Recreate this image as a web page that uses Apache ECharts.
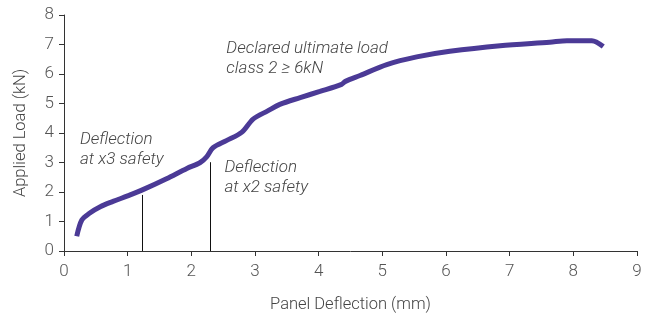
<!DOCTYPE html>
<html><head><meta charset="utf-8">
<script src="https://cdn.jsdelivr.net/npm/echarts@6/dist/echarts.min.js"></script>
<style>html,body{margin:0;padding:0;background:#fff}#c{width:649px;height:318px}</style>
</head><body><div id="c"></div>
<script>
const deflection = [0.2,0.28,0.4,0.57,0.77,1.0,1.24,1.61,1.93,2.14,2.24,2.34,2.55,2.79,2.97,3.2,3.39,3.71,4.02,4.36,4.42,4.65,5.07,5.54,6.06,6.85,7.63,7.9,8.29,8.47];
const load =       [0.5,1.05,1.28,1.5,1.68,1.87,2.08,2.45,2.8,3.0,3.19,3.5,3.74,4.02,4.47,4.75,4.97,5.2,5.41,5.65,5.75,5.95,6.32,6.58,6.77,6.96,7.08,7.13,7.13,6.93];
const markers = [{x:1.235, y:1.9},{x:2.29, y:3.01}];
const notes = [
  {x:0.25, y:4.12, lines:['Deflection','at x3 safety']},
  {x:2.52, y:3.15, lines:['Deflection','at x2 safety']},
  {x:2.55, y:7.2, lines:['Declared ultimate load','class 2 \u2265 6kN']}
];
const FONT = 'Roboto';
const chart = echarts.init(document.getElementById('c'));
const axisCommon = {
  axisLine:{show:true,lineStyle:{color:'#333',width:1}},
  axisTick:{show:true,inside:false,length:5,lineStyle:{color:'#333'}},
  splitLine:{show:false},
  axisLabel:{color:'#555',fontSize:17,fontFamily:FONT,fontWeight:300},
  nameTextStyle:{color:'#444',fontSize:16.5,fontFamily:FONT,fontWeight:300}
};
chart.setOption({
  animation:false,
  grid:{left:64,right:12,top:15,bottom:65,containLabel:false},
  xAxis:Object.assign({},axisCommon,{type:'value',min:0,max:9,interval:1,name:'Panel Deflection (mm)',nameLocation:'middle',nameGap:45,
    axisLabel:Object.assign({},axisCommon.axisLabel,{margin:12})}),
  yAxis:Object.assign({},axisCommon,{type:'value',min:0,max:8,interval:1,name:'Applied Load (kN)',nameLocation:'middle',nameGap:35,
    axisLabel:Object.assign({},axisCommon.axisLabel,{margin:10})}),
  series:[{
    type:'line',data:deflection.map((d,i)=>[d,load[i]]),smooth:0.3,showSymbol:false,
    lineStyle:{color:'#4b3a96',width:5},
    markLine:{silent:true,symbol:['none','none'],label:{show:false},lineStyle:{color:'#111',width:1,type:'solid'},
      data:markers.map(m=>[{coord:[m.x,0]},{coord:[m.x,m.y]}])}
  }]
});
const g = [];
notes.forEach(n=>{
  const p = chart.convertToPixel({gridIndex:0},[n.x,n.y]);
  g.push({type:'text',left:p[0],top:p[1],style:{text:n.lines.join('\n'),font:'italic 300 17px '+FONT,fill:'#444',lineHeight:20}});
});
chart.setOption({graphic:g});
</script></body></html>
